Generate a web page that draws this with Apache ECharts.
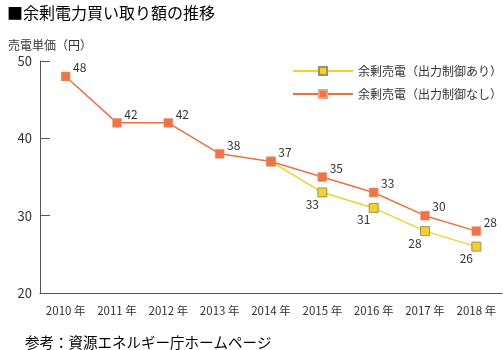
<!DOCTYPE html>
<html>
<head>
<meta charset="utf-8">
<script src="https://cdn.jsdelivr.net/npm/echarts@6/dist/echarts.min.js"></script>
<style>
  html, body { margin: 0; padding: 0; background: #fff; }
  #chart { width: 503px; height: 350px; }
</style>
</head>
<body>
<div id="chart"></div>
<script>
// 年（横軸）
const years = ['2010 年', '2011 年', '2012 年', '2013 年', '2014 年', '2015 年', '2016 年', '2017 年', '2018 年']
// 出力制御あり（2014年から分岐）
const withControl = [null, null, null, null, 37, 33, 31, 28, 26]
// 出力制御なし
const withoutControl = [48, 42, 42, 38, 37, 35, 33, 30, 28]

const fontFamily = '"Noto Sans CJK JP", sans-serif'
const orange = '#e9733f'
const yellow = '#f4cf2e'

const chart = echarts.init(document.getElementById('chart'))

chart.setOption({
  animation: false,
  backgroundColor: '#fff',
  textStyle: { fontFamily },
  title: [
    {
      text: '■余剰電力買い取り額の推移',
      left: 2, top: 0,
      textStyle: { fontSize: 16, fontWeight: 'normal', color: '#000', fontFamily },
    },
    {
      text: '売電単価（円）',
      left: 3, top: 34,
      textStyle: { fontSize: 12, fontWeight: 'normal', color: '#333', fontFamily },
    },
    {
      text: '参考：資源エネルギー庁ホームページ',
      left: 20, top: 330,
      textStyle: { fontSize: 14.5, fontWeight: 'normal', color: '#000', fontFamily },
    },
  ],
  legend: {
    orient: 'vertical',
    left: 292, top: 65,
    padding: 0,
    itemWidth: 60, itemHeight: 10, itemGap: 11,
    textStyle: { fontSize: 12, color: '#333', fontFamily },
    data: ['余剰売電（出力制御あり）', '余剰売電（出力制御なし）'],
  },
  grid: { left: 40, right: 1, top: 61, bottom: 57 },
  xAxis: {
    type: 'category',
    data: years,
    boundaryGap: true,
    axisLine: { lineStyle: { color: '#555', width: 1 } },
    axisTick: { inside: true, length: 4, lineStyle: { color: '#999' } },
    axisLabel: { interval: 0, fontSize: 11.5, color: '#333', margin: 12, fontFamily },
  },
  yAxis: {
    type: 'value',
    min: 20, max: 50, interval: 10,
    axisLine: { show: true, lineStyle: { color: '#555', width: 1 } },
    axisTick: { show: true, inside: true, length: 10, lineStyle: { color: '#555' } },
    axisLabel: { fontSize: 13, color: '#333', margin: 8, fontFamily },
    splitLine: { show: false },
  },
  series: [
    {
      name: '余剰売電（出力制御あり）',
      type: 'line',
      data: withControl,
      symbol: 'rect',
      symbolSize: 9,
      lineStyle: { color: yellow, width: 1.5 },
      itemStyle: { color: yellow, borderColor: '#a09060', borderWidth: 1 },
      label: {
        show: true,
        position: 'bottom',
        offset: [-10, -4],
        fontSize: 12, color: '#333', fontFamily,
        formatter: p => (p.dataIndex === 4 ? '' : p.value),
      },
    },
    {
      name: '余剰売電（出力制御なし）',
      type: 'line',
      data: withoutControl,
      symbol: 'rect',
      symbolSize: 9,
      lineStyle: { color: orange, width: 1.5 },
      itemStyle: { color: '#ec7548', borderColor: '#f0a080', borderWidth: 0.5 },
      label: {
        show: true,
        position: 'top',
        offset: [14, 7],
        fontSize: 12, color: '#333', fontFamily,
      },
    },
  ],
})
</script>
</body>
</html>
